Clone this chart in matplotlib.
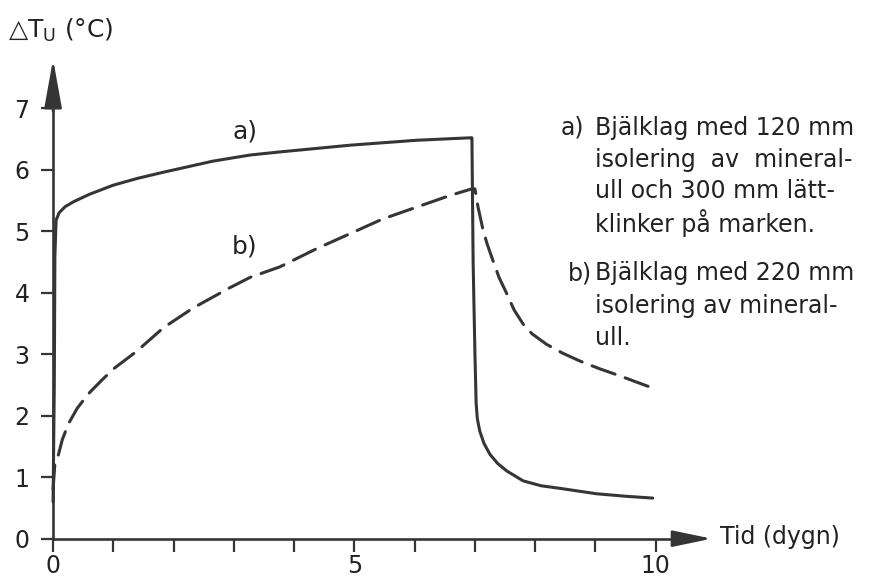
import matplotlib
matplotlib.use("Agg")
import matplotlib.pyplot as plt

# curve a) - 120 mm mineral wool + 300 mm light clinker
days_a = [0.0, 0.02, 0.03, 0.05, 0.1, 0.2, 0.34, 0.6, 1.0, 1.4, 1.83, 2.65, 3.27, 3.76, 4.93,
          6.03, 6.92, 6.95, 6.97, 7.0, 7.02, 7.04, 7.08, 7.15, 7.25, 7.38, 7.53, 7.8, 8.1,
          8.4, 9.02, 9.5, 9.95]
temp_a = [0.6, 2.5, 4.6, 5.18, 5.3, 5.4, 5.48, 5.6, 5.75, 5.86, 5.96, 6.14, 6.24, 6.29, 6.40,
          6.48, 6.52, 6.52, 4.5, 3.0, 2.2, 1.95, 1.75, 1.55, 1.37, 1.22, 1.1, 0.94, 0.86,
          0.82, 0.73, 0.69, 0.66]

# curve b) - 220 mm mineral wool
days_b = [0.0, 0.03, 0.09, 0.15, 0.25, 0.4, 0.58, 0.8, 1.0, 1.39, 1.83, 2.32, 2.93, 3.27,
          3.76, 4.38, 5.47, 6.58, 6.95, 7.0, 7.05, 7.13, 7.2, 7.3, 7.4, 7.53, 7.65, 7.8,
          7.95, 8.19, 8.45, 8.74, 9.05, 9.4, 9.7, 9.95]
temp_b = [0.8, 1.22, 1.37, 1.6, 1.86, 2.12, 2.35, 2.57, 2.76, 3.05, 3.43, 3.75, 4.08, 4.25,
          4.42, 4.72, 5.2, 5.58, 5.69, 5.69, 5.4, 5.04, 4.8, 4.52, 4.25, 3.98, 3.72, 3.49,
          3.33, 3.16, 3.02, 2.89, 2.77, 2.65, 2.54, 2.45]

x_ticks = list(range(0, 11))
x_tick_labels = ["0", "", "", "", "", "5", "", "", "", "", "10"]
y_ticks = list(range(0, 8))

legend_a = ["Bjälklag med 120 mm", "isolering  av  mineral-", "ull och 300 mm lätt-",
            "klinker på marken."]
legend_b = ["Bjälklag med 220 mm", "isolering av mineral-", "ull."]

W, H = 869, 582
ink = "#353535"
txt = "#222222"
plt.rcParams['font.family'] = ['DejaVu Sans']

fig = plt.figure(figsize=(W / 100, H / 100), dpi=100)
ax = fig.add_axes([35 / W, 25.5 / H, 681 / W, 506 / H])
ax.set_xlim(-0.3, 11.0)
ax.set_ylim(-0.29, 7.94)

ax.plot(days_a, temp_a, color=ink, lw=2.2, solid_capstyle="round", solid_joinstyle="round")
ax.plot(days_b, temp_b, color=ink, lw=2.2, dashes=(8, 3.5), dash_capstyle="round",
        dash_joinstyle="round")

for s in ["top", "right"]:
    ax.spines[s].set_visible(False)
ax.spines["left"].set_position(("data", 0))
ax.spines["bottom"].set_position(("data", 0))
ax.spines["left"].set_bounds(0, 7.0)
ax.spines["bottom"].set_bounds(0, 10.4)
for s in ["left", "bottom"]:
    ax.spines[s].set_color(ink)
    ax.spines[s].set_linewidth(1.9)

# arrow heads on the axes
ax.annotate("", xy=(0, 7.8), xytext=(0, 6.95),
            arrowprops=dict(arrowstyle="-|>,head_length=1.5,head_width=0.27", mutation_scale=20,
                            color=ink, lw=1.9, shrinkA=0, shrinkB=0))
ax.annotate("", xy=(10.93, 0), xytext=(10.35, 0),
            arrowprops=dict(arrowstyle="-|>,head_length=1.2,head_width=0.25", mutation_scale=20,
                            color=ink, lw=1.9, shrinkA=0, shrinkB=0))

ax.set_xticks(x_ticks)
ax.set_xticklabels(x_tick_labels)
ax.set_yticks(y_ticks)
ax.tick_params(axis="both", colors=ink, labelcolor=txt, width=1.6, length=9,
               labelsize=17)
ax.tick_params(axis="x", pad=2)
ax.tick_params(axis="y", pad=8)

ax.text(3.18, 6.63, "a)", fontsize=18, color=txt, ha="center", va="center")
ax.text(3.18, 4.76, "b)", fontsize=18, color=txt, ha="center", va="center")

# axis titles
fig.text(8 / W, 1 - 30 / H, "△T$_\\mathrm{U}$ (°C)", fontsize=18, color=txt,
         ha="left", va="center")
fig.text(720 / W, 1 - 537 / H, "Tid (dygn)", fontsize=17, color=txt,
         ha="left", va="center")

# legend text
rows_a = [128, 160, 191, 223]
rows_b = [273, 306, 338]
fig.text(561 / W, 1 - rows_a[0] / H, "a)", fontsize=17, color=txt, ha="left", va="center")
for line, yy in zip(legend_a, rows_a):
    fig.text(595 / W, 1 - yy / H, line, fontsize=17, color=txt, ha="left", va="center")
fig.text(568 / W, 1 - rows_b[0] / H, "b)", fontsize=17, color=txt, ha="left", va="center")
for line, yy in zip(legend_b, rows_b):
    fig.text(595 / W, 1 - yy / H, line, fontsize=17, color=txt, ha="left", va="center")

fig.savefig("out.png", dpi=100)
